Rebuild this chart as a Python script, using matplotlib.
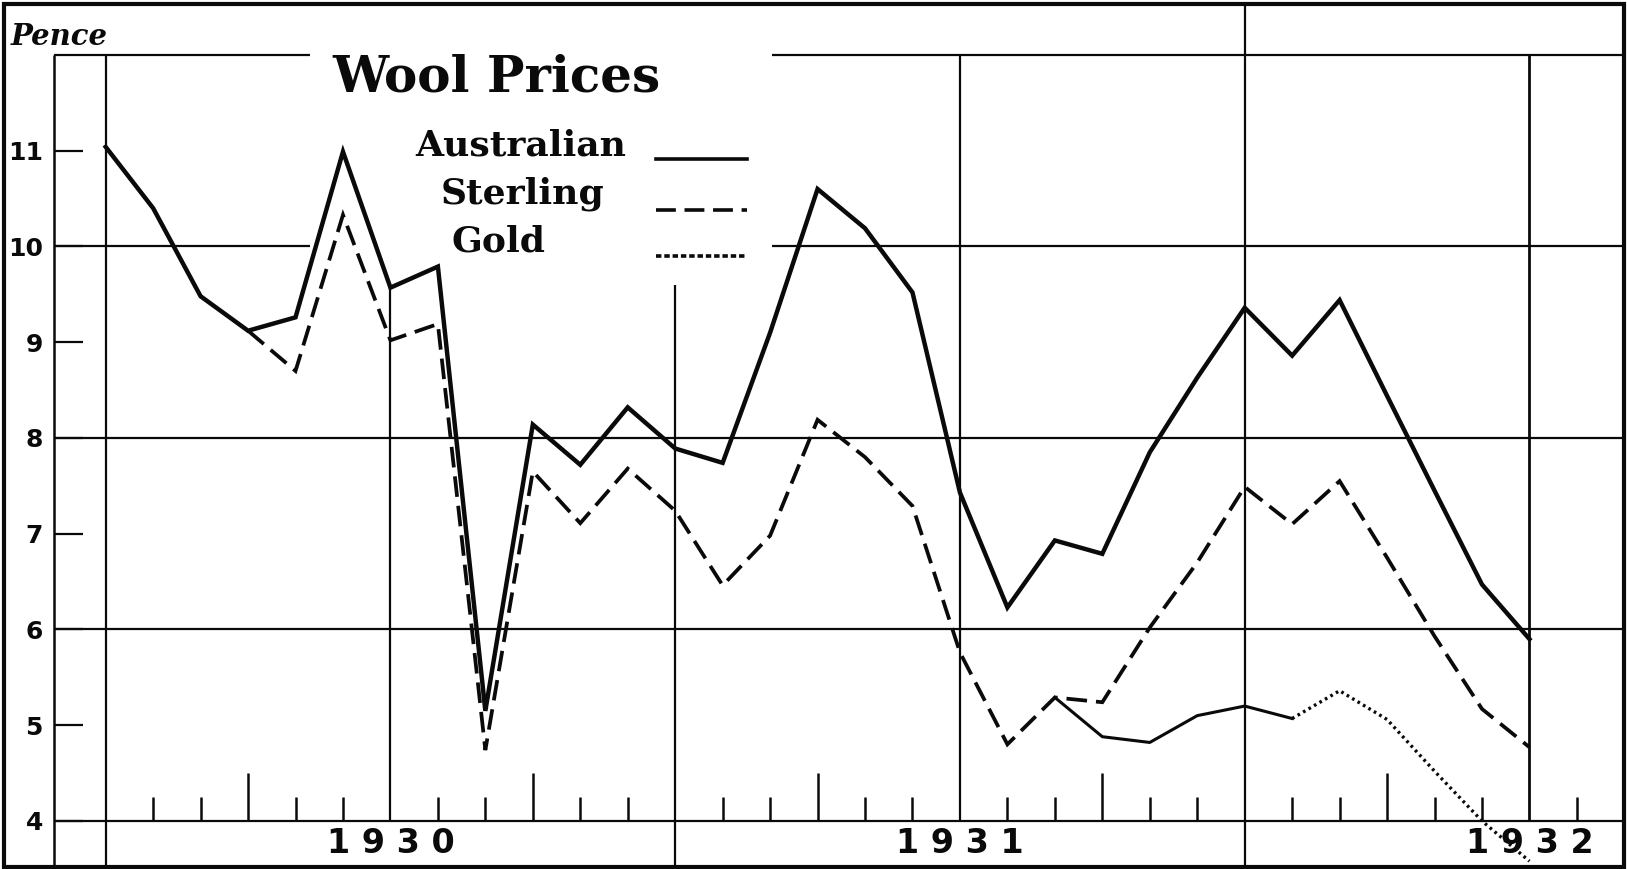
import matplotlib
matplotlib.use("Agg")
import matplotlib.pyplot as plt
from matplotlib.lines import Line2D
from matplotlib.patches import Rectangle
import numpy as np

# Monthly wool prices in pence, month 0 = July 1929 ... month 30 = January 1932
months = np.arange(31)
australian = [11.04, 10.40, 9.48, 9.12, 9.26, 10.99, 9.57, 9.79, 5.15, 8.14,
              7.72, 8.32, 7.89, 7.74, 9.10, 10.60, 10.19, 9.52, 7.43, 6.23,
              6.93, 6.79, 7.85, 8.63, 9.36, 8.86, 9.44, 8.44, 7.45, 6.47, 5.90]
sterling_start = 3
sterling = [9.12, 8.70, 10.33, 9.02, 9.19, 4.74, 7.65, 7.11, 7.68, 7.24,
            6.46, 6.98, 8.19, 7.80, 7.29, 5.76, 4.80, 5.29, 5.24, 6.02,
            6.70, 7.49, 7.10, 7.55, 6.75, 5.93, 5.17, 4.77]
gold_start = 20
gold = [5.29, 4.88, 4.82, 5.10, 5.20, 5.07, 5.36, 5.06, 4.52, 4.00, 3.58]
gold_solid_n = 6  # first points drawn solid, the rest dotted

y_ticks = [4, 5, 6, 7, 8, 9, 10, 11]
y_labels = ["4", "5", "6", "7", "8", "9", "10", "11"]
grid_levels = [4, 6, 8, 10, 12]
year_labels = ["1 9 3 0", "1 9 3 1", "1 9 3 2"]
year_months = [6, 18, 30]

INK = "#0a0a0a"

fig = plt.figure(figsize=(16.27, 8.69), dpi=100)
ax = fig.add_axes([52 / 1568, 2 / 837, 1513 / 1568, 830 / 837])
x0, x1 = -1.09, 31.99
y0, y1 = 3.52, 12.52
ax.set_xlim(x0, x1)
ax.set_ylim(y0, y1)
for s in ax.spines.values():
    s.set_visible(False)
ax.set_xticks([])

# y axis labels and short ticks
ax.set_yticks(y_ticks, y_labels)
ax.tick_params(axis="y", direction="in", length=21, width=1.6, pad=8,
               color=INK, labelsize=18, labelcolor=INK)
for lab in ax.get_yticklabels():
    lab.set_fontweight("heavy")

# horizontal rules (the top two are broken by the title block)
gap = (4.3, 14.05)
for lvl in grid_levels:
    if lvl >= 10:
        ax.hlines(lvl, x0, gap[0], color=INK, lw=1.6, clip_on=False)
        ax.hlines(lvl, gap[1], x1, color=INK, lw=1.6, clip_on=False)
    else:
        ax.hlines(lvl, x0, x1, color=INK, lw=1.6, clip_on=False)

# vertical rules
ax.vlines(x0, y0, 12, color=INK, lw=1.8, clip_on=False)
ax.vlines(0, y0, 12, color=INK, lw=1.6)
ax.vlines(6, 4, 9.6, color=INK, lw=1.6)
ax.vlines(12, y0, 9.6, color=INK, lw=1.6)
ax.vlines(18, 4, 12, color=INK, lw=1.6)
ax.vlines(24, y0, y1, color=INK, lw=1.6)
ax.vlines(30, 4, 12, color=INK, lw=2.0)

# month ticks along the base line
for m in range(1, 32):
    if m % 6 == 0:
        continue
    top = 4.5 if m % 6 == 3 else 4.25
    ax.vlines(m, 4, top, color=INK, lw=1.8)

# year labels
for lab, m in zip(year_labels, year_months):
    ax.text(m, 3.76, lab, ha="center", va="center", fontsize=24,
            fontweight="heavy", color=INK)

# series
ax.plot(months, australian, color=INK, lw=3.2, solid_joinstyle="miter")
ax.plot(months[sterling_start:], sterling, color=INK, lw=2.7,
        linestyle=(0, (5.5, 2.4)), dash_joinstyle="miter")
gx = months[gold_start:]
ax.plot(gx[:gold_solid_n], gold[:gold_solid_n], color=INK, lw=2.2)
ax.plot(gx[gold_solid_n - 1:], gold[gold_solid_n - 1:], color=INK, lw=2.4,
        linestyle=(0, (0.8, 1.1)), clip_on=False)

# title block and key
fig.text(10 / 1568, 1 - 35 / 837, "Pence", fontsize=21, fontweight="bold",
         fontstyle="italic", family="DejaVu Serif", va="center", color=INK)
fig.text(320 / 1568, 1 - 75 / 837, "Wool Prices", fontsize=36,
         fontweight="bold", family="DejaVu Serif", va="center", color=INK)
key = [("Australian", 400, 140, 153, "-"),
       ("Sterling", 425, 187, 202, (0, (5.5, 2.4))),
       ("Gold", 435, 233, 247, (0, (1.5, 0.8)))]
for name, tx, ty, ly, ls in key:
    fig.text(tx / 1568, 1 - ty / 837, name, fontsize=26, fontweight="bold",
             family="DejaVu Serif", va="center", color=INK)
    fig.add_artist(Line2D([632 / 1568, 720 / 1568], [1 - ly / 837, 1 - ly / 837],
                          transform=fig.transFigure, color=INK, lw=2.6,
                          linestyle=ls))

# outer frame
fig.add_artist(Rectangle((4 / 1568, 2 / 837), 1561 / 1568, 831 / 837,
                         transform=fig.transFigure, fill=False,
                         edgecolor=INK, lw=3.0))

fig.savefig("out.png", dpi=100, facecolor="white")
